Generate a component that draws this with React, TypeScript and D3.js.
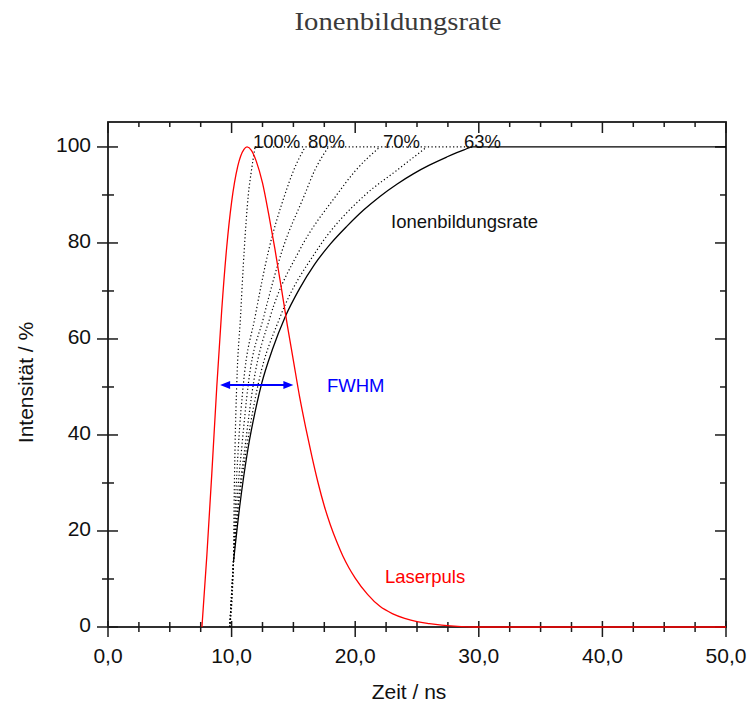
import React, { useEffect, useRef } from "react";
import * as d3 from "d3";

// Laserpuls (red), time in ns / intensity in %
const laserpuls: [number, number][] = [
  [7.6, 0], [8.0, 15], [8.4, 32], [8.8, 50], [9.2, 66], [9.6, 79], [10.0, 88.5],
  [10.5, 96], [11.0, 99.5], [11.25, 100], [11.6, 99.3], [12.0, 97], [12.5, 92.5],
  [13.0, 86], [13.5, 78.8], [14.0, 71], [14.5, 63], [15.0, 55.5], [15.5, 48],
  [16.0, 41.5], [16.5, 35.5], [17.0, 30], [17.5, 25.2], [18.0, 21.2], [18.5, 17.8],
  [19.0, 14.8], [19.5, 12.3], [20.0, 10.2], [21.0, 6.8], [22.0, 4.3], [23.0, 2.8],
  [24.0, 1.8], [25.0, 1.1], [26.0, 0.7], [27.0, 0.4], [28.0, 0.2], [30.0, 0], [50.0, 0],
];

// Ionenbildungsrate (solid black)
const ionenrate: [number, number][] = [
  [10.15, 13.5], [10.65, 25], [11.35, 37.5], [12.0, 46], [12.44, 50.8], [13.3, 57.8],
  [14.33, 64.6], [15.5, 70.5], [16.7, 75.5], [18.0, 79.8], [19.3, 83.4], [20.7, 86.9],
  [22.0, 89.7], [23.4, 92.3], [24.7, 94.4], [26.0, 96.2], [27.4, 97.9], [28.8, 99.4],
  [29.5, 100], [50.0, 100],
];

// dotted comparison curves
const rate100: [number, number][] = [
  [9.85, 0], [10.15, 13.5], [10.2, 25], [10.28, 37.6], [10.42, 50.8], [10.72, 64.6],
  [11.02, 78.5], [11.35, 90], [11.6, 95], [11.9, 100],
];
const rate80: [number, number][] = [
  [9.85, 0], [10.15, 13.5], [10.3, 25], [10.55, 37.6], [10.96, 50.8], [11.9, 64.6],
  [13.0, 78.5], [14.3, 90], [15.0, 95], [15.95, 100],
];
const rate75: [number, number][] = [
  [9.85, 0], [10.15, 13.5], [10.4, 25], [10.83, 37.6], [11.36, 50.8], [12.6, 64.6],
  [14.1, 78.5], [15.9, 90], [16.7, 95], [17.84, 100],
];
const rate70: [number, number][] = [
  [9.85, 0], [10.15, 13.5], [10.5, 25], [11.09, 37.6], [11.77, 50.8], [13.12, 64.6],
  [15.5, 78.5], [18.5, 90], [20.0, 95], [22.0, 100],
];
const rate66: [number, number][] = [
  [9.85, 0], [10.15, 13.5], [10.55, 25], [11.23, 37.6], [12.17, 50.8], [13.93, 64.6],
  [16.9, 78.5], [20.8, 90], [23.3, 95], [25.8, 100],
];
const plateau: [number, number][] = [[11.9, 100], [29.5, 100]];

const fwhm: [number, number] = [9.07, 15.0];
const fwhmLevel = 50.4;

const xMajor = [0, 10, 20, 30, 40, 50];
const xTickLabels = ["0,0", "10,0", "20,0", "30,0", "40,0", "50,0"];
const xMinor = [2.5, 5, 7.5, 12.5, 15, 17.5, 22.5, 25, 27.5, 32.5, 35, 37.5, 42.5, 45, 47.5];
const yMajor = [0, 20, 40, 60, 80, 100];
const yTickLabels = ["0", "20", "40", "60", "80", "100"];
const yMinor = [10, 30, 50, 70, 90];

const W = 752, H = 711;
const left = 108, right = 726, top = 122, bottom = 627;
const sans = "'Liberation Sans', Arial, sans-serif";

export default function App() {
  const ref = useRef<SVGSVGElement>(null);

  useEffect(() => {
    const svg = d3.select(ref.current);
    svg.selectAll("*").remove();

    const x = d3.scaleLinear().domain([0, 50]).range([left, right]);
    const y = d3.scaleLinear().domain([0, 105.2]).range([bottom, top]);

    // title
    svg.append("text")
      .attr("x", 398).attr("y", 30)
      .attr("text-anchor", "middle")
      .attr("font-family", "'Liberation Serif', 'Times New Roman', serif")
      .attr("font-size", 25)
      .attr("textLength", 207)
      .attr("lengthAdjust", "spacingAndGlyphs")
      .attr("fill", "#3a3a3a")
      .text("Ionenbildungsrate");

    // frame
    svg.append("rect")
      .attr("x", left).attr("y", top)
      .attr("width", right - left).attr("height", bottom - top)
      .attr("fill", "none").attr("stroke", "#1a1a1a").attr("stroke-width", 1.8);

    const ticks = svg.append("g").attr("stroke", "#1a1a1a").attr("stroke-width", 1.5);
    // bottom
    ticks.selectAll(".bM").data(xMajor).join("line")
      .attr("x1", d => x(d)).attr("x2", d => x(d)).attr("y1", bottom - 6).attr("y2", bottom + 10);
    ticks.selectAll(".bm").data(xMinor).join("line")
      .attr("x1", d => x(d)).attr("x2", d => x(d)).attr("y1", bottom - 5).attr("y2", bottom + 5);
    // top (inward)
    ticks.selectAll(".tM").data(xMajor).join("line")
      .attr("x1", d => x(d)).attr("x2", d => x(d)).attr("y1", top).attr("y2", top + 11);
    ticks.selectAll(".tm").data(xMinor).join("line")
      .attr("x1", d => x(d)).attr("x2", d => x(d)).attr("y1", top).attr("y2", top + 5);
    // left
    ticks.selectAll(".lM").data(yMajor).join("line")
      .attr("y1", d => y(d)).attr("y2", d => y(d)).attr("x1", left - 11).attr("x2", left + 10);
    ticks.selectAll(".lm").data(yMinor).join("line")
      .attr("y1", d => y(d)).attr("y2", d => y(d)).attr("x1", left - 6).attr("x2", left + 6);
    // right (inward)
    ticks.selectAll(".rM").data(yMajor).join("line")
      .attr("y1", d => y(d)).attr("y2", d => y(d)).attr("x1", right - 11).attr("x2", right);
    ticks.selectAll(".rm").data(yMinor).join("line")
      .attr("y1", d => y(d)).attr("y2", d => y(d)).attr("x1", right - 6).attr("x2", right);

    // tick labels
    svg.append("g").selectAll("text").data(xMajor).join("text")
      .attr("x", d => x(d)).attr("y", 663)
      .attr("text-anchor", "middle")
      .attr("font-family", sans).attr("font-size", 21).attr("fill", "#111")
      .text((d, i) => xTickLabels[i]);
    svg.append("g").selectAll("text").data(yMajor).join("text")
      .attr("x", 91).attr("y", d => y(d) + 5)
      .attr("text-anchor", "end")
      .attr("font-family", sans).attr("font-size", 21).attr("fill", "#111")
      .text((d, i) => yTickLabels[i]);

    // axis titles
    svg.append("text")
      .attr("x", 409).attr("y", 699)
      .attr("text-anchor", "middle")
      .attr("font-family", sans).attr("font-size", 21).attr("fill", "#111")
      .text("Zeit / ns");
    svg.append("text")
      .attr("transform", `translate(33,${(top + bottom) / 2 + 8}) rotate(-90)`)
      .attr("text-anchor", "middle")
      .attr("font-family", sans).attr("font-size", 21).attr("fill", "#111")
      .text("Intensität / %");

    const line = d3.line<[number, number]>()
      .curve(d3.curveMonotoneX)
      .x(d => x(d[0]))
      .y(d => y(d[1]));

    // dotted curves
    [rate100, rate80, rate75, rate70, rate66, plateau].forEach(series => {
      svg.append("path")
        .datum(series)
        .attr("fill", "none")
        .attr("stroke", "#000")
        .attr("stroke-width", 1.2)
        .attr("stroke-dasharray", "1.2,2.4")
        .attr("d", line);
    });

    svg.append("path")
      .datum(ionenrate)
      .attr("fill", "none")
      .attr("stroke", "#000")
      .attr("stroke-width", 1.3)
      .attr("d", line);

    svg.append("path")
      .datum(laserpuls)
      .attr("fill", "none")
      .attr("stroke", "#ff0000")
      .attr("stroke-width", 1.3)
      .attr("d", line);

    // FWHM arrow
    const ay = y(fwhmLevel), ax1 = x(fwhm[0]), ax2 = x(fwhm[1]);
    svg.append("line")
      .attr("x1", ax1 + 6).attr("x2", ax2 - 6).attr("y1", ay).attr("y2", ay)
      .attr("stroke", "#0000ff").attr("stroke-width", 2);
    svg.append("path")
      .attr("d", `M${ax1},${ay} L${ax1 + 10},${ay - 4} L${ax1 + 10},${ay + 4} Z`)
      .attr("fill", "#0000ff");
    svg.append("path")
      .attr("d", `M${ax2},${ay} L${ax2 - 10},${ay - 4} L${ax2 - 10},${ay + 4} Z`)
      .attr("fill", "#0000ff");

    // annotations
    const note = (t: string, px: number, py: number, color: string) =>
      svg.append("text")
        .attr("x", px).attr("y", py)
        .attr("font-family", sans).attr("font-size", 18.5).attr("fill", color)
        .text(t);
    note("100%", 253, 148, "#111");
    note("80%", 308, 148, "#111");
    note("70%", 383, 148, "#111");
    note("63%", 464, 148, "#111");
    note("Ionenbildungsrate", 391, 228, "#111");
    note("FWHM", 327, 392, "#0000ff");
    note("Laserpuls", 385, 583, "#ff0000");
  }, []);

  return (
    <svg
      ref={ref}
      width={W}
      height={H}
      style={{ position: "absolute", left: 0, top: 0, background: "#fff" }}
    />
  );
}
